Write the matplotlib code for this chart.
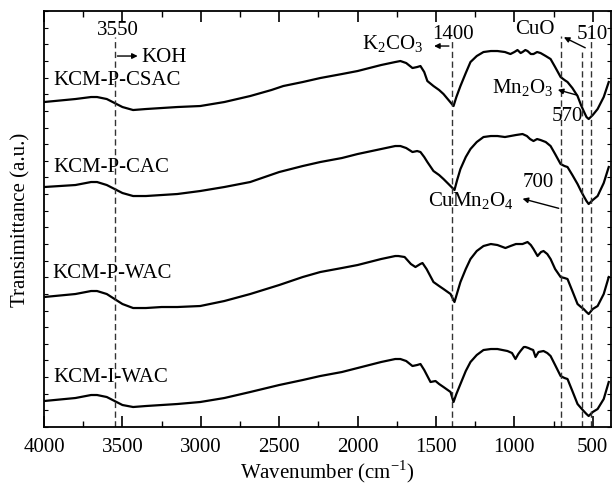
import numpy as np
import matplotlib
matplotlib.use("Agg")
import matplotlib.pyplot as plt

plt.rcParams['font.family'] = ['Liberation Serif', 'DejaVu Serif']
plt.rcParams['mathtext.fontset'] = 'custom'
plt.rcParams['mathtext.rm'] = 'Liberation Serif'

# Wavenumber (cm-1) and transmittance (a.u., stacked)
wn_csac = [4000, 3800, 3700, 3662, 3600, 3550, 3500, 3432, 3350, 3250, 3150, 3004,
           2850, 2685, 2550, 2474, 2350, 2238, 2100, 2000, 1850, 1760, 1727, 1690,
           1650, 1620, 1599, 1575, 1555, 1516, 1480, 1452, 1420, 1388, 1370, 1344,
           1310, 1280, 1240, 1197, 1150, 1108, 1060, 1025, 1000, 980, 960, 948,
           930, 916, 895, 878, 855, 833, 800, 769, 740, 705, 680, 661, 630, 597,
           575, 558, 540, 526, 500, 469, 430, 398]
t_csac = [325, 328, 330, 330, 328, 324, 320, 317, 318, 319, 320, 321,
          325, 331, 337, 341, 345, 349, 353, 356, 362, 365, 366, 364,
          359, 360, 361, 355, 346, 341, 337, 333, 327, 321, 330, 341,
          354, 365, 371, 375, 376, 376, 375, 373, 375, 377, 374, 375,
          377, 376, 373, 373, 375, 374, 371, 368, 360, 350, 347, 345, 339, 331,
          322, 316, 310, 308, 312, 318, 330, 345]

wn_cac = [4000, 3800, 3700, 3662, 3600, 3550, 3500, 3432, 3350, 3250, 3150, 3004,
          2850, 2685, 2500, 2350, 2238, 2100, 2000, 1850, 1760, 1727, 1690, 1650,
          1620, 1599, 1575, 1555, 1516, 1480, 1452, 1420, 1382, 1365, 1344, 1310,
          1280, 1240, 1197, 1150, 1108, 1060, 1025, 990, 948, 920, 900, 878,
          855, 833, 800, 769, 740, 705, 680, 661, 630, 597, 575, 558,
          540, 526, 500, 469, 430, 398]
t_cac = [240, 242, 245, 245, 242, 238, 234, 231, 231, 232, 233, 236,
         240, 245, 255, 261, 265, 269, 273, 278, 281, 281, 279, 275,
         276, 275, 270, 265, 256, 252, 248, 243, 237, 247, 258, 270,
         278, 285, 290, 291, 291, 290, 291, 292, 293, 291, 288, 286,
         288, 287, 285, 281, 273, 263, 261, 260, 252, 243, 236, 231,
         226, 223, 227, 231, 244, 260]

wn_pwac = [4000, 3800, 3700, 3662, 3600, 3550, 3500, 3432, 3350, 3250, 3150, 3004,
           2850, 2685, 2500, 2350, 2238, 2100, 2000, 1850, 1760, 1740, 1700, 1660,
           1631, 1600, 1586, 1560, 1516, 1480, 1452, 1407, 1382, 1365, 1344, 1310,
           1280, 1240, 1197, 1150, 1108, 1057, 1025, 990, 948, 916, 895, 878,
           852, 830, 814, 790, 769, 740, 705, 680, 661, 630, 597, 575,
           558, 540, 526, 500, 469, 430, 398]
t_pwac = [130, 133, 136, 136, 133, 128, 123, 119, 119, 120, 120, 121,
          126, 133, 142, 150, 155, 159, 162, 168, 171, 171, 170, 163,
          160, 163, 164, 158, 145, 141, 138, 133, 125, 134, 145, 158,
          168, 176, 181, 183, 182, 179, 181, 183, 183, 185, 182, 178,
          171, 175, 176, 173, 168, 158, 150, 149, 148, 136, 123, 120,
          118, 115, 113, 118, 121, 133, 150]

wn_iwac = [4000, 3800, 3700, 3662, 3600, 3550, 3500, 3432, 3350, 3250, 3150, 3004,
           2850, 2685, 2500, 2350, 2238, 2100, 2000, 1850, 1760, 1727, 1690, 1650,
           1620, 1599, 1575, 1555, 1535, 1503, 1480, 1452, 1407, 1388, 1370, 1344,
           1310, 1280, 1240, 1197, 1150, 1108, 1044, 1015, 993, 975, 961, 940,
           929, 910, 897, 880, 865, 846, 814, 790, 769, 740, 705, 680,
           661, 630, 597, 575, 558, 540, 526, 500, 469, 430, 398]
t_iwac = [26, 29, 32, 32, 30, 26, 22, 20, 21, 22, 23, 25,
          29, 35, 42, 47, 51, 55, 59, 65, 68, 68, 66, 61,
          62, 63, 57, 51, 45, 46, 43, 40, 35, 25, 33, 43,
          56, 65, 72, 77, 78, 78, 76, 74, 68, 73, 76, 80,
          80, 79, 78, 77, 70, 75, 76, 74, 71, 62, 51, 49,
          48, 36, 23, 19, 16, 13, 11, 15, 18, 28, 45]

series = [("KCM-P-CSAC", wn_csac, t_csac),
          ("KCM-P-CAC", wn_cac, t_cac),
          ("KCM-P-WAC", wn_pwac, t_pwac),
          ("KCM-I-WAC", wn_iwac, t_iwac)]

# dashed marker lines: wavenumber and top end (a.u.)
marks = [3550, 1400, 700, 570, 510]
mark_top = [390, 388, 391, 375, 396]

fig = plt.figure(figsize=(6.12, 4.85), dpi=100)
ax = fig.add_axes([0.072, 0.1175, 0.926, 0.8577])

for name, wn, t in series:
    ax.plot(wn, t, color='black', lw=1.6, solid_joinstyle='round')

for m, top in zip(marks, mark_top):
    ax.plot([m, m], [0, top], color='#333333', lw=1.0, ls=(0, (4.5, 2.5)))

ax.set_xlim(4000, 385)
ax.set_ylim(0, 416)

fs = 15
ax.text(3940, 348, "KCM-P-CSAC", fontsize=fs, va='center')
ax.text(3940, 261, "KCM-P-CAC", fontsize=fs, va='center')
ax.text(3950, 155, "KCM-P-WAC", fontsize=fs, va='center')
ax.text(3940, 51, "KCM-I-WAC", fontsize=fs, va='center')

arrow = dict(arrowstyle='-|>', color='black', lw=1, mutation_scale=8)

ax.text(3530, 398, "3550", fontsize=fs, ha='center', va='center')
ax.text(3380, 371, "KOH", fontsize=fs, ha='left', va='center')
ax.annotate("", xy=(3385, 371), xytext=(3550, 371), arrowprops=arrow)

ax.text(1390, 394, "1400", fontsize=fs, ha='center', va='center')
ax.text(1775, 384, r"K$_2$CO$_3$", fontsize=fs, ha='center', va='center')
ax.annotate("", xy=(1530, 381), xytext=(1400, 381), arrowprops=arrow)

ax.text(870, 399, "CuO", fontsize=fs, ha='center', va='center')
ax.text(500, 394, "510", fontsize=fs, ha='center', va='center')
ax.annotate("", xy=(700, 391), xytext=(532, 378), arrowprops=arrow)

ax.text(945, 340, r"Mn$_2$O$_3$", fontsize=fs, ha='center', va='center')
ax.text(660, 312, "570", fontsize=fs, ha='center', va='center')
ax.annotate("", xy=(740, 338), xytext=(580, 331), arrowprops=arrow)

ax.text(850, 246, "700", fontsize=fs, ha='center', va='center')
ax.text(1275, 227, r"CuMn$_2$O$_4$", fontsize=fs, ha='center', va='center')
ax.annotate("", xy=(965, 229), xytext=(700, 218), arrowprops=arrow)

ax.set_xticks(np.arange(4000, 499, -500))
ax.set_xticks(np.arange(4000, 399, -250), minor=True)
ax.set_yticks(np.arange(0, 417, 416 / 25))
ax.set_yticklabels([])
ax.tick_params(axis='x', which='major', direction='in', length=8, width=1.2,
               labelsize=fs, top=True, pad=7)
ax.tick_params(axis='x', which='minor', direction='in', length=4, width=1.0, top=True)
ax.tick_params(axis='y', direction='in', length=3, width=0.8, right=True)
for s in ax.spines.values():
    s.set_linewidth(1.3)

ax.set_xlabel(r"Wavenumber (cm$^{\mathregular{-1}}$)", fontsize=fs, labelpad=1)
ax.set_ylabel("Transimittance (a.u.)", fontsize=fs, labelpad=6)

fig.savefig("out.png", dpi=100)
